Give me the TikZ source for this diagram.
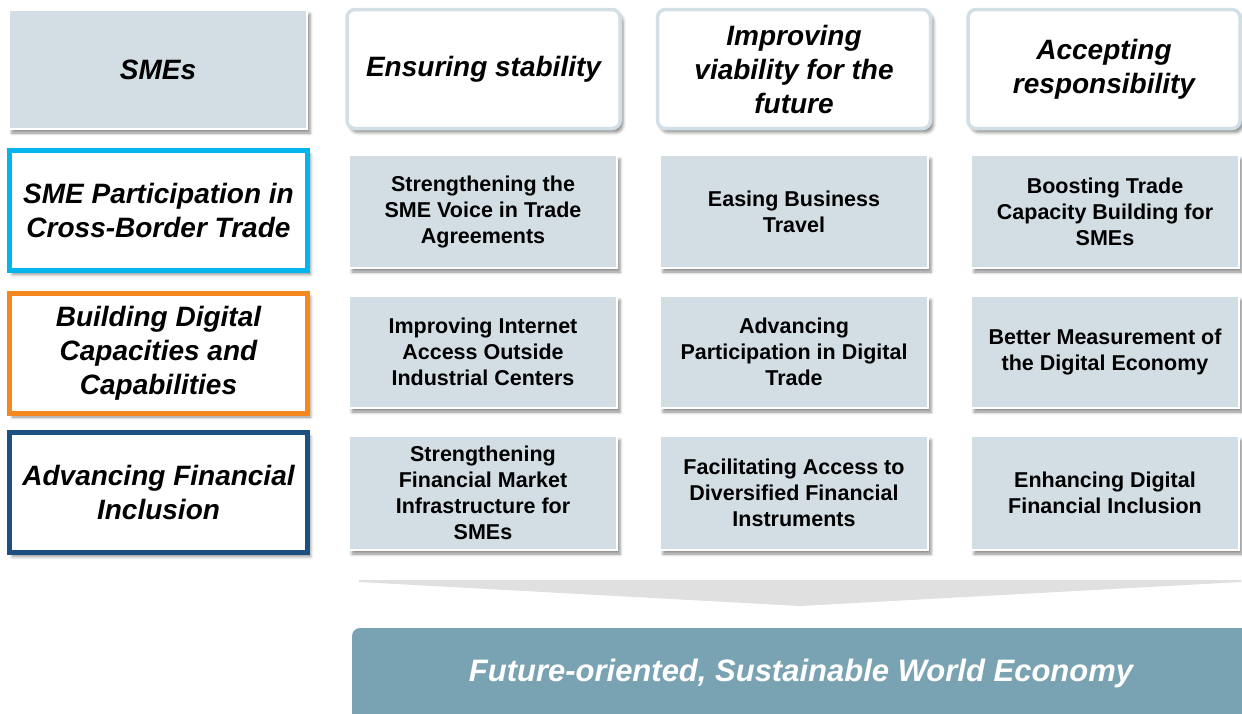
\documentclass[tikz,border=0pt]{standalone}
\usepackage{fontspec}
\setmainfont{Liberation Sans}
\usetikzlibrary{shadows.blur}

\definecolor{cellfill}{HTML}{D3DEE4}
\definecolor{headline}{HTML}{D3DFE6}
\definecolor{tradeblue}{HTML}{00B4EC}
\definecolor{digitalorange}{HTML}{F5891F}
\definecolor{financeblue}{HTML}{1D5080}
\definecolor{goalfill}{HTML}{79A3B3}
\definecolor{arrowgrey}{HTML}{E0E0E0}

\tikzset{
  softshadow/.style={blur shadow={shadow xshift=3pt, shadow yshift=-4pt,
      shadow blur radius=3pt, shadow opacity=45}},
  cell/.style={rectangle, fill=cellfill, draw=white, line width=1.5pt,
      minimum width=268pt, align=center, inner sep=0pt,
      font=\fontsize{21.5}{26}\selectfont\bfseries, softshadow},
  header/.style={rectangle, rounded corners=8pt, fill=white, draw=headline,
      line width=3.5pt, minimum width=273pt, minimum height=119pt,
      align=center, inner sep=0pt,
      font=\fontsize{28}{34}\selectfont\bfseries\itshape, softshadow},
  corner/.style={rectangle, fill=cellfill, draw=white, line width=1.5pt,
      minimum width=298pt, minimum height=119pt, align=center, inner sep=0pt,
      font=\fontsize{28}{34}\selectfont\bfseries\itshape, softshadow},
  rowlabel/.style={rectangle, fill=white, line width=5pt,
      minimum width=298pt, minimum height=120pt, align=center, inner sep=0pt,
      font=\fontsize{28}{34}\selectfont\bfseries\itshape, softshadow},
  goaltext/.style={text=white, inner sep=0pt,
      font=\fontsize{31}{36}\selectfont\bfseries\itshape},
}

\begin{document}
\begin{tikzpicture}[x=1pt, y=-1pt]
  \useasboundingbox (0,0) rectangle (1242,713);
  \clip (0,0) rectangle (1242,713);

  % column headings
  \node[corner] (smes) at (158,69.5) {SMEs};
  \node[header] (stability) at (483.5,69) {Ensuring stability};
  \node[header] (viability) at (794,69) {Improving\\viability for the\\future};
  \node[header, minimum width=272pt] (responsibility) at (1104,69) {Accepting\\responsibility};

  % row headings
  \node[rowlabel, draw=tradeblue] (trade) at (158.5,210.5) {SME Participation in\\Cross-Border Trade};
  \node[rowlabel, draw=digitalorange] (digital) at (158.5,353) {Building Digital\\Capacities and\\Capabilities};
  \node[rowlabel, draw=financeblue] (finance) at (158.5,492.5) {Advancing Financial\\Inclusion};

  % first row of measures
  \node[cell, minimum height=113pt] (t1) at (483,211.5) {Strengthening the\\SME Voice in Trade\\Agreements};
  \node[cell, minimum height=113pt] (t2) at (794,211.5) {Easing Business\\Travel};
  \node[cell, minimum height=113pt] (t3) at (1105,211.5) {Boosting Trade\\Capacity Building for\\SMEs};

  % second row of measures
  \node[cell, minimum height=112pt] (d1) at (483,352) {Improving Internet\\Access Outside\\Industrial Centers};
  \node[cell, minimum height=112pt] (d2) at (794,352) {Advancing\\Participation in Digital\\Trade};
  \node[cell, minimum height=112pt] (d3) at (1105,352) {Better Measurement of\\the Digital Economy};

  % third row of measures
  \node[cell, minimum height=114pt] (f1) at (483,493) {Strengthening\\Financial Market\\Infrastructure for\\SMEs};
  \node[cell, minimum height=114pt] (f2) at (794,493) {Facilitating Access to\\Diversified Financial\\Instruments};
  \node[cell, minimum height=114pt] (f3) at (1105,493) {Enhancing Digital\\Financial Inclusion};

  % flat chevron pointing to the goal
  \fill[arrowgrey] (359,580) -- (1241,580) -- (1241,582) -- (800,606) -- (359,582) -- cycle;

  % goal bar
  \fill[goalfill, rounded corners=8pt] (352,740) -- (352,628) -- (1270,628) -- (1270,740) -- cycle;
  \node[goaltext] (goal) at (801,673) {Future-oriented, Sustainable World Economy};
\end{tikzpicture}
\end{document}
